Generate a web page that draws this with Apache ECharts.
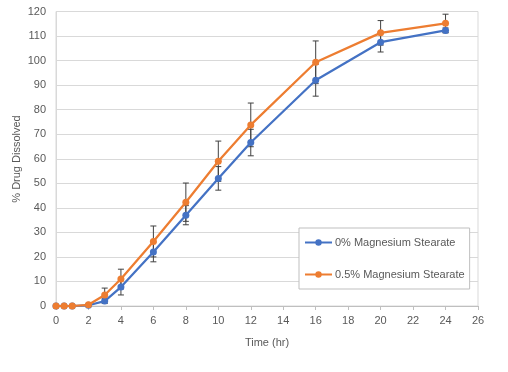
<!DOCTYPE html>
<html>
<head>
<meta charset="utf-8">
<script src="https://cdn.jsdelivr.net/npm/echarts@6/dist/echarts.min.js"></script>
<style>html,body{margin:0;padding:0;background:#fff}#c{width:508px;height:372px}</style>
</head>
<body>
<div id="c"></div>
<script>
var times = [0, 0.5, 1, 2, 3, 4, 6, 8, 10, 12, 16, 20, 24];
var seriesNames = ['0% Magnesium Stearate', '0.5% Magnesium Stearate'];
var blueValues = [0, 0, 0, 0.3, 2, 7.7, 22, 37, 52, 66.6, 92, 107.5, 112.3];
var orangeValues = [0, 0, 0, 0.5, 4.5, 11, 26.3, 42.3, 59, 73.8, 99.3, 111.3, 115.2];
var blueErr = [0, 0, 0, 0, 1, 3.2, 4, 3.9, 4.8, 5.4, 6.5, 4, 1];
var orangeErr = [0, 0, 0, 0, 2.8, 4, 6.3, 7.8, 8.2, 8.9, 8.7, 5, 3.7];
var yTitle = '% Drug Dissolved';
var xTitle = 'Time (hr)';

var FONT = '"Liberation Sans", Arial, sans-serif';
var TXT = '#595959';

function pairs(vals) { return times.map(function (t, i) { return [t, vals[i]]; }); }
function errData(vals, errs) {
  var out = [];
  times.forEach(function (t, i) { if (errs[i] > 0) out.push([t, vals[i] - errs[i], vals[i] + errs[i]]); });
  return out;
}
function errSeries(vals, errs) {
  return {
    type: 'custom', silent: true, z: 1,
    data: errData(vals, errs),
    encode: { x: 0, y: [1, 2] },
    renderItem: function (params, api) {
      var x = api.value(0);
      var lo = api.coord([x, api.value(1)]);
      var hi = api.coord([x, api.value(2)]);
      var w = 3;
      var st = { stroke: '#404040', lineWidth: 1 };
      return {
        type: 'group',
        children: [
          { type: 'line', shape: { x1: lo[0], y1: lo[1], x2: hi[0], y2: hi[1] }, style: st },
          { type: 'line', shape: { x1: lo[0] - w, y1: lo[1], x2: lo[0] + w, y2: lo[1] }, style: st },
          { type: 'line', shape: { x1: hi[0] - w, y1: hi[1], x2: hi[0] + w, y2: hi[1] }, style: st }
        ]
      };
    }
  };
}

var chart = echarts.init(document.getElementById('c'));
chart.setOption({
  animation: false,
  backgroundColor: '#fff',
  textStyle: { fontFamily: FONT },
  grid: { left: 56, right: 30, top: 11.5, bottom: 66, show: true, borderColor: '#d9d9d9', borderWidth: 1 },
  graphic: [
    {
      type: 'text', x: 17, y: 159, rotation: Math.PI / 2,
      style: { text: yTitle, fill: TXT, font: '11px ' + FONT, align: 'center', verticalAlign: 'middle' }
    }
  ],
  xAxis: {
    type: 'value', min: 0, max: 26, interval: 2,
    name: xTitle, nameLocation: 'middle', nameGap: 31,
    nameTextStyle: { color: TXT, fontSize: 11, fontFamily: FONT },
    axisLine: { show: true, lineStyle: { color: '#bfbfbf' } },
    axisTick: { show: true, length: 4, lineStyle: { color: '#bfbfbf' } },
    axisLabel: { color: TXT, fontSize: 11, margin: 9, fontFamily: FONT },
    splitLine: { show: false }
  },
  yAxis: {
    type: 'value', min: 0, max: 120, interval: 10,
    axisLine: { show: true, lineStyle: { color: '#d9d9d9' } },
    axisTick: { show: false },
    axisLabel: { color: TXT, fontSize: 11, margin: 10, fontFamily: FONT },
    splitLine: { show: true, lineStyle: { color: '#d9d9d9', width: 1 } }
  },
  legend: {
    data: seriesNames,
    orient: 'vertical', left: 299, top: 228,
    padding: [9, 5, 9, 5], itemGap: 21,
    itemWidth: 27, itemHeight: 8,
    borderColor: '#bfbfbf', borderWidth: 1, backgroundColor: '#fff',
    textStyle: { color: TXT, fontSize: 11, fontFamily: FONT, padding: [0, 0, 0, -2] }
  },
  series: [
    errSeries(blueValues, blueErr),
    errSeries(orangeValues, orangeErr),
    {
      name: seriesNames[0], type: 'line', data: pairs(blueValues), z: 3,
      symbol: 'circle', symbolSize: 7,
      itemStyle: { color: '#4472C4' }, lineStyle: { color: '#4472C4', width: 2.25 }
    },
    {
      name: seriesNames[1], type: 'line', data: pairs(orangeValues), z: 4,
      symbol: 'circle', symbolSize: 7,
      itemStyle: { color: '#ED7D31' }, lineStyle: { color: '#ED7D31', width: 2.25 }
    }
  ]
});
</script>
</body>
</html>
